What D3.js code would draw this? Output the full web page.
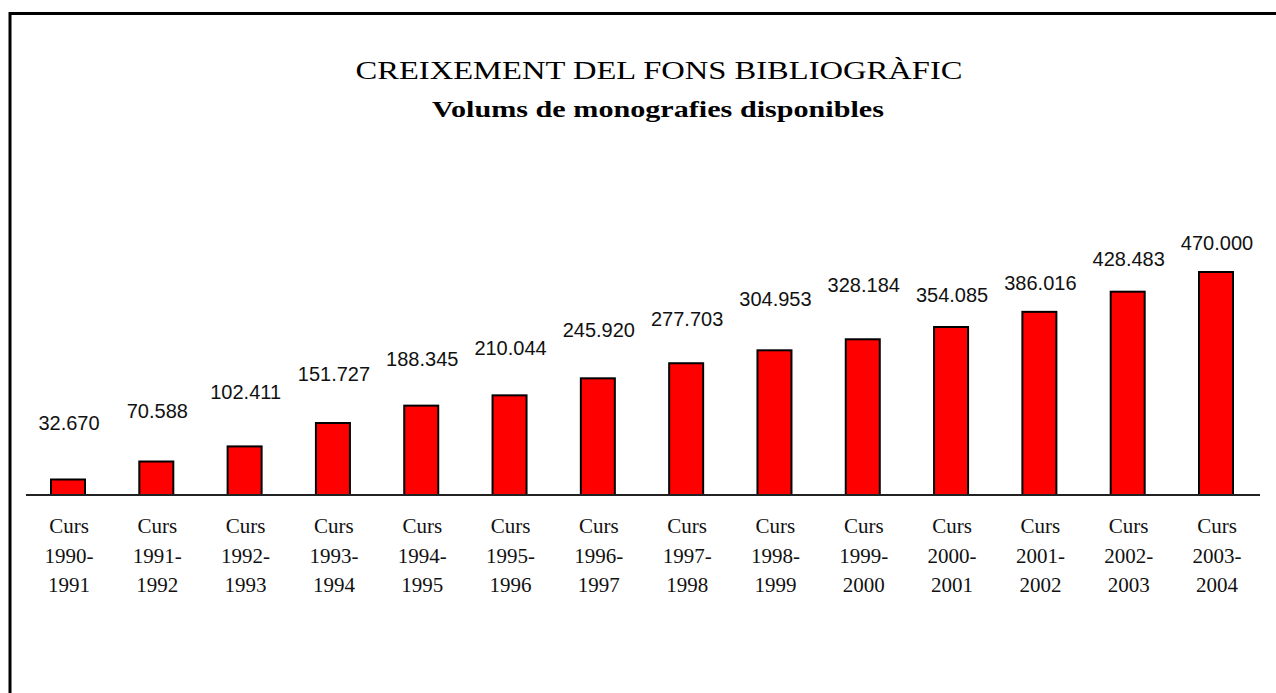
<!DOCTYPE html>
<html>
<head>
<meta charset="utf-8">
<script src="https://cdn.jsdelivr.net/npm/d3@7"></script>
<style>
  body { margin: 0; background: #fff; }
</style>
</head>
<body>
<div id="chart"></div>
<script>
// data
const courses = ["1990-1991", "1991-1992", "1992-1993", "1993-1994", "1994-1995", "1995-1996", "1996-1997",
    "1997-1998", "1998-1999", "1999-2000", "2000-2001", "2001-2002", "2002-2003", "2003-2004"];
const volumes = [32670, 70588, 102411, 151727, 188345, 210044, 245920,
    277703, 304953, 328184, 354085, 386016, 428483, 470000];
const valueLabels = ["32.670", "70.588", "102.411", "151.727", "188.345", "210.044", "245.920",
    "277.703", "304.953", "328.184", "354.085", "386.016", "428.483", "470.000"];

// the value labels don't sit at one fixed distance above the bars in the original
const labelLift = [49, 44, 47, 42, 40, 40, 41, 37, 44, 47, 25, 22, 26, 22];

const width = 1276, height = 693;
const baseY = 495, topY = 272;

const svg = d3.select("#chart")
    .append("svg")
    .attr("width", width)
    .attr("height", height);

// frame (runs off the right and bottom edge)
svg.append("rect")
    .attr("x", 10)
    .attr("y", 13.5)
    .attr("width", 1300)
    .attr("height", 720)
    .attr("fill", "#fff")
    .attr("stroke", "#000")
    .attr("stroke-width", 3);

// titles
svg.append("text")
    .attr("x", 659)
    .attr("y", 79)
    .attr("text-anchor", "middle")
    .attr("font-family", "Liberation Serif")
    .attr("font-size", 25)
    .attr("textLength", 607)
    .attr("lengthAdjust", "spacingAndGlyphs")
    .text("CREIXEMENT DEL FONS BIBLIOGRÀFIC");

svg.append("text")
    .attr("x", 658)
    .attr("y", 117)
    .attr("text-anchor", "middle")
    .attr("font-family", "Liberation Serif")
    .attr("font-weight", "bold")
    .attr("font-size", 24)
    .attr("textLength", 452)
    .attr("lengthAdjust", "spacingAndGlyphs")
    .text("Volums de monografies disponibles");

const x = d3.scalePoint()
    .domain(courses)
    .range([68, 1216]);

const y = d3.scaleLinear()
    .domain([0, d3.max(volumes)])
    .range([baseY, topY]);

const barW = 34;

// bars
svg.append("g")
    .selectAll("rect")
    .data(courses)
    .enter()
    .append("rect")
    .attr("x", function (d) { return x(d) - barW / 2; })
    .attr("y", function (d, i) { return y(volumes[i]); })
    .attr("width", barW)
    .attr("height", function (d, i) { return y(0) - y(volumes[i]); })
    .attr("fill", "#ff0000")
    .attr("stroke", "#000")
    .attr("stroke-width", 2);

// baseline
svg.append("line")
    .attr("x1", 26)
    .attr("x2", 1260)
    .attr("y1", y(0))
    .attr("y2", y(0))
    .attr("stroke", "#222")
    .attr("stroke-width", 2);

// value labels
svg.append("g")
    .selectAll("text")
    .data(courses)
    .enter()
    .append("text")
    .attr("x", function (d) { return x(d) + 1; })
    .attr("y", function (d, i) { return y(volumes[i]) - labelLift[i]; })
    .attr("text-anchor", "middle")
    .attr("font-family", "Liberation Sans")
    .attr("font-size", 20)
    .attr("fill", "#111")
    .text(function (d, i) { return valueLabels[i]; });

// category labels, three lines each
const cat = svg.append("g")
    .selectAll("text")
    .data(courses)
    .enter()
    .append("text")
    .attr("text-anchor", "middle")
    .attr("font-family", "Liberation Serif")
    .attr("font-size", 21)
    .attr("fill", "#111");

cat.each(function (d) {
    const parts = d.split("-");
    const lines = ["Curs", parts[0] + "-", parts[1]];
    d3.select(this).selectAll("tspan")
        .data(lines)
        .enter()
        .append("tspan")
        .attr("x", x(d) + 1)
        .attr("y", function (l, j) { return 533 + j * 29.5; })
        .text(function (l) { return l; });
});
</script>
</body>
</html>
